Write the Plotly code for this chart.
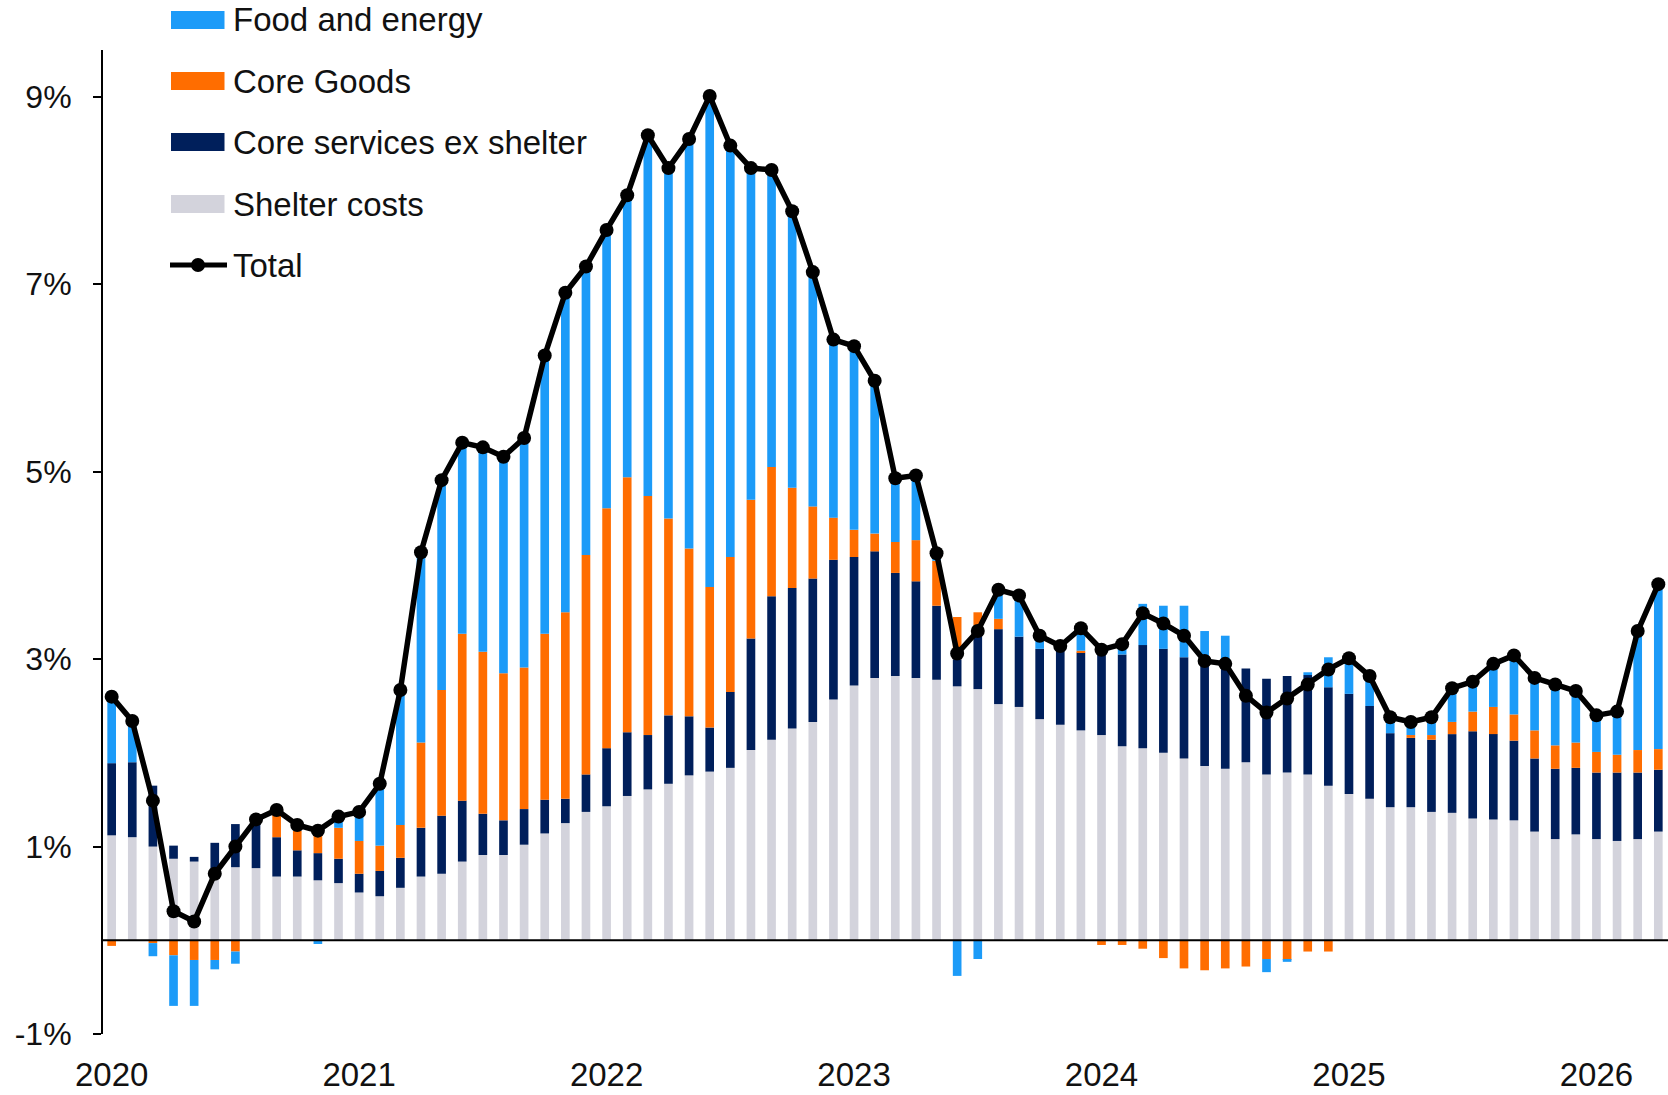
import plotly.graph_objects as go

# Monthly categories Jan-2020 .. Apr-2026
years = list(range(2020, 2027))
months = [f"{y}-{m:02d}" for y in years for m in range(1, 13)][:76]
year_ticks = [f"{y}-01" for y in years]
year_labels = [str(y) for y in years]

shelter = [1.12, 1.10, 1.00, 0.87, 0.84, 0.71, 0.78, 0.77, 0.68, 0.68, 0.64, 0.61,
           0.51, 0.47, 0.56, 0.68, 0.71, 0.84, 0.91, 0.91, 1.02, 1.14, 1.25, 1.37,
           1.43, 1.54, 1.61, 1.67, 1.76, 1.80, 1.84, 2.03, 2.14, 2.26, 2.33, 2.57,
           2.72, 2.80, 2.82, 2.80, 2.78, 2.71, 2.68, 2.52, 2.49, 2.36, 2.30, 2.24,
           2.19, 2.07, 2.05, 2.00, 1.94, 1.86, 1.83, 1.90, 1.77, 1.79, 1.77, 1.65,
           1.56, 1.51, 1.42, 1.42, 1.37, 1.36, 1.30, 1.29, 1.28, 1.16, 1.08, 1.13,
           1.08, 1.06, 1.08, 1.16]
core_services = [0.77, 0.80, 0.65, 0.14, 0.05, 0.33, 0.46, 0.50, 0.42, 0.28, 0.29, 0.26,
                 0.20, 0.27, 0.32, 0.52, 0.62, 0.65, 0.44, 0.37, 0.38, 0.36, 0.26, 0.40,
                 0.62, 0.68, 0.58, 0.73, 0.63, 0.47, 0.81, 1.19, 1.53, 1.50, 1.53, 1.49,
                 1.37, 1.35, 1.10, 1.03, 0.79, 0.29, 0.68, 0.80, 0.75, 0.75, 0.79, 0.83,
                 0.86, 0.98, 1.10, 1.11, 1.08, 1.09, 1.12, 1.00, 1.02, 1.03, 1.06, 1.05,
                 1.07, 0.99, 0.79, 0.74, 0.77, 0.84, 0.93, 0.91, 0.85, 0.78, 0.75, 0.71,
                 0.71, 0.73, 0.71, 0.66]
core_goods = [-0.06, 0.00, -0.03, -0.16, -0.21, -0.21, -0.12, 0.00, 0.27, 0.21, 0.28, 0.33,
              0.35, 0.27, 0.35, 0.91, 1.34, 1.78, 1.73, 1.57, 1.51, 1.77, 1.99, 2.34,
              2.56, 2.72, 2.55, 2.10, 1.79, 1.50, 1.44, 1.48, 1.38, 1.07, 0.77, 0.45,
              0.29, 0.19, 0.33, 0.44, 0.48, 0.45, 0.14, 0.11, 0.00, 0.00, 0.00, 0.02,
              -0.05, -0.05, -0.09, -0.19, -0.30, -0.32, -0.30, -0.28, -0.20, -0.21, -0.12, -0.12,
              0.00, 0.00, 0.00, 0.03, 0.05, 0.13, 0.21, 0.29, 0.28, 0.30, 0.25, 0.27,
              0.22, 0.19, 0.24, 0.22]
food_energy = [0.77, 0.44, -0.14, -0.54, -0.49, -0.10, -0.13, 0.02, 0.02, 0.06, -0.04, 0.12,
               0.31, 0.66, 1.44, 2.03, 2.24, 2.04, 2.18, 2.31, 2.45, 2.97, 3.41, 3.08,
               2.97, 3.01, 3.85, 3.74, 4.37, 5.24, 4.39, 3.54, 3.17, 2.95, 2.50, 1.90,
               1.96, 1.63, 0.68, 0.69, 0.08, -0.38, -0.20, 0.31, 0.44, 0.14, 0.05, 0.24,
               0.10, 0.16, 0.44, 0.46, 0.55, 0.35, 0.30, 0.00, -0.14, -0.02, 0.03, 0.32,
               0.38, 0.32, 0.17, 0.14, 0.19, 0.36, 0.32, 0.46, 0.63, 0.56, 0.65, 0.55,
               0.39, 0.46, 1.27, 1.74]
total = [2.60, 2.34, 1.49, 0.31, 0.20, 0.71, 1.00, 1.29, 1.39, 1.23, 1.17, 1.32,
         1.37, 1.67, 2.67, 4.14, 4.91, 5.31, 5.26, 5.16, 5.36, 6.24, 6.91, 7.19,
         7.58, 7.95, 8.59, 8.24, 8.55, 9.01, 8.48, 8.24, 8.22, 7.78, 7.13, 6.41,
         6.34, 5.97, 4.93, 4.96, 4.13, 3.06, 3.30, 3.74, 3.68, 3.25, 3.14, 3.33,
         3.10, 3.16, 3.49, 3.38, 3.25, 2.98, 2.95, 2.61, 2.43, 2.58, 2.73, 2.89,
         3.01, 2.82, 2.38, 2.33, 2.38, 2.69, 2.76, 2.95, 3.04, 2.80, 2.73, 2.66,
         2.40, 2.44, 3.30, 3.80]

y_ticks = [-1, 1, 3, 5, 7, 9]
y_labels = ["-1%", "1%", "3%", "5%", "7%", "9%"]

C_FE = "#1c9bf8"
C_CG = "#ff6d00"
C_CS = "#001f5b"
C_SH = "#d3d3dc"

FONT = "Liberation Sans, Arial, sans-serif"

fig = go.Figure()
for name, vals, col in [("Shelter costs", shelter, C_SH),
                        ("Core services ex shelter", core_services, C_CS),
                        ("Core Goods", core_goods, C_CG),
                        ("Food and energy", food_energy, C_FE)]:
    fig.add_trace(go.Bar(x=months, y=vals, name=name, marker_color=col,
                         marker_line_width=0, width=0.42, showlegend=False))
fig.add_trace(go.Scatter(x=months, y=total, name="Total", mode="lines+markers",
                         line=dict(color="black", width=5.5),
                         marker=dict(color="black", size=14), showlegend=False))

# plot area in pixels: x 103..1668, y 50..1034
L, R, T, B = 103, 1668, 50, 1034
def px(xp):
    return (xp - L) / (R - L)
def py(yp):
    return (B - yp) / (B - T)

shapes = [dict(type="line", xref="paper", yref="y", x0=0, x1=1, y0=0, y1=0,
               line=dict(color="black", width=2), layer="above")]
annotations = []
legend_items = [("Food and energy", C_FE, 20), ("Core Goods", C_CG, 81),
                ("Core services ex shelter", C_CS, 142), ("Shelter costs", C_SH, 204)]
for label, col, yc in legend_items:
    shapes.append(dict(type="rect", xref="paper", yref="paper",
                       x0=px(171), x1=px(224.5), y0=py(yc + 9), y1=py(yc - 9),
                       fillcolor=col, line_width=0, layer="above"))
    annotations.append(dict(text=label, xref="paper", yref="paper", x=px(231), y=py(yc),
                            xanchor="left", yanchor="middle", showarrow=False,
                            font=dict(size=33, color="#111111", family=FONT)))
yc = 265
shapes.append(dict(type="line", xref="paper", yref="paper", x0=px(170), x1=px(227),
                   y0=py(yc), y1=py(yc), line=dict(color="black", width=5)))
shapes.append(dict(type="circle", xref="paper", yref="paper", x0=px(191), x1=px(205),
                   y0=py(yc + 7), y1=py(yc - 7), fillcolor="black", line_width=0))
annotations.append(dict(text="Total", xref="paper", yref="paper", x=px(231), y=py(yc),
                        xanchor="left", yanchor="middle", showarrow=False,
                        font=dict(size=33, color="#111111", family=FONT)))

fig.update_layout(
    width=1668, height=1095,
    margin=dict(l=L, r=1668 - R, t=T, b=1095 - B),
    paper_bgcolor="white", plot_bgcolor="white",
    barmode="relative", bargap=0.58,
    font=dict(family=FONT, size=32, color="#111111"),
    shapes=shapes, annotations=annotations,
    showlegend=False,
    xaxis=dict(type="category", range=[-0.42, 75.47], tickvals=year_ticks, ticktext=year_labels,
               showline=False, ticks="", showgrid=False, zeroline=False,
               tickfont=dict(size=33), ticklabelstandoff=18),
    yaxis=dict(range=[-1, 9.5], tickvals=y_ticks, ticktext=y_labels, showgrid=False,
               showline=True, linecolor="black", linewidth=2, ticks="outside",
               ticklen=8, tickwidth=2, tickcolor="black", zeroline=False,
               tickfont=dict(size=32), ticklabelstandoff=15),
)

fig.write_html("out.html", config={"displayModeBar": False},
               post_script="document.body.style.margin='0';document.body.style.padding='0';"
                           "document.body.style.overflow='hidden';")
